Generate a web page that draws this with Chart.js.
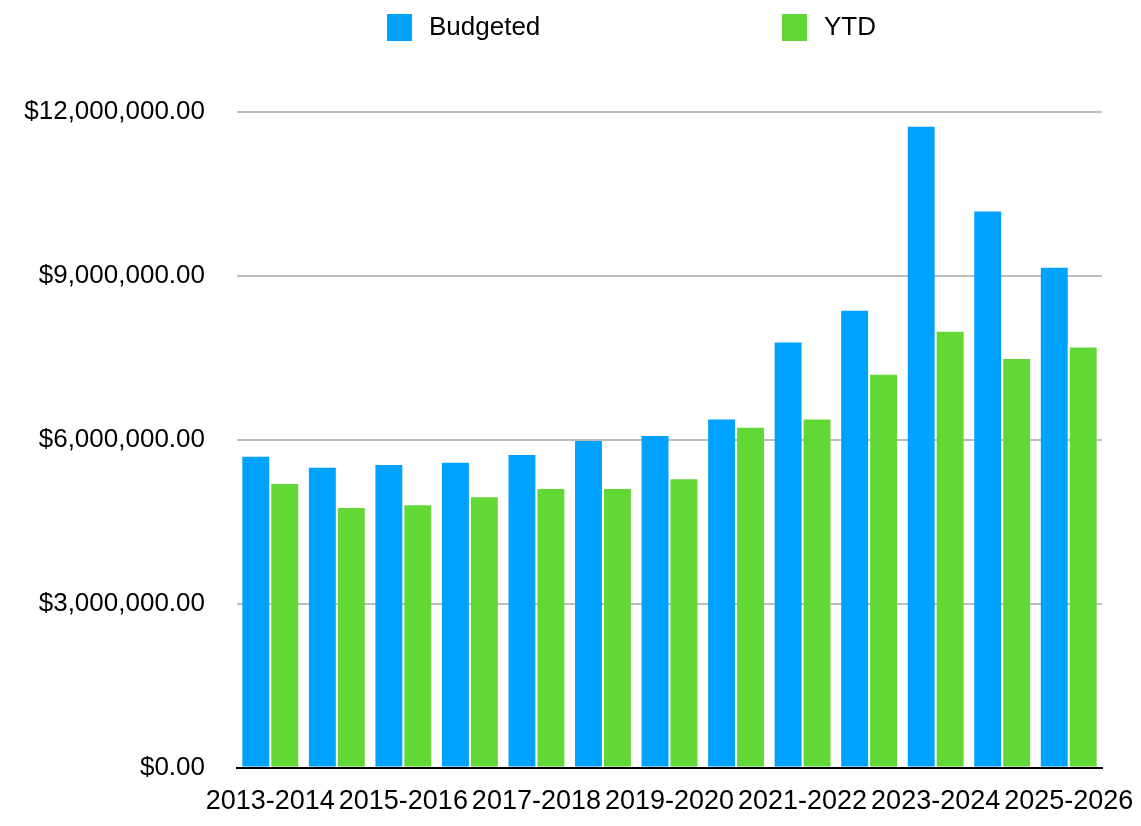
<!DOCTYPE html>
<html>
<head>
<meta charset="utf-8">
<title>Budgeted vs YTD</title>
<script src="https://cdn.jsdelivr.net/npm/chart.js@4/dist/chart.umd.min.js"></script>
<style>
  html, body { margin: 0; padding: 0; background: #fff; }
  #wrap { width: 1141px; height: 826px; }
</style>
</head>
<body>
<div id="wrap"><canvas id="budgetChart"></canvas></div>
<script>
// Data
const years = [
  '2013-2014', '2014-2015', '2015-2016', '2016-2017', '2017-2018', '2018-2019', '2019-2020',
  '2020-2021', '2021-2022', '2022-2023', '2023-2024', '2024-2025', '2025-2026'
];
const budgeted = [
  5690000, 5490000, 5540000, 5580000, 5720000, 5980000, 6070000,
  6370000, 7780000, 8360000, 11730000, 10180000, 9150000
];
const ytd = [
  5190000, 4750000, 4800000, 4950000, 5100000, 5100000, 5280000,
  6220000, 6370000, 7190000, 7980000, 7480000, 7690000
];
const yTicks = [0, 3000000, 6000000, 9000000, 12000000];

const FONT = '"Liberation Sans", Arial, Helvetica, sans-serif';

// Fungsi format dolar: 12000000 -> "$12,000,000.00"
function formatDollar(v) {
  return '$' + Number(v).toLocaleString('en-US', { minimumFractionDigits: 2, maximumFractionDigits: 2 });
}

// Legenda kustom, item diletakkan berjauhan seperti gambar asli
const spreadLegend = {
  id: 'spreadLegend',
  afterDraw(chart) {
    const ctx = chart.ctx;
    const xs = [387, 782];
    ctx.save();
    ctx.font = '26px ' + FONT;
    ctx.textBaseline = 'middle';
    ctx.textAlign = 'left';
    chart.data.datasets.forEach((ds, i) => {
      ctx.fillStyle = ds.backgroundColor;
      ctx.fillRect(xs[i], 14, 25, 27);
      ctx.fillStyle = '#000';
      ctx.fillText(ds.label, xs[i] + 42, 28);
    });
    ctx.restore();
  }
};

const ctx = document.getElementById('budgetChart').getContext('2d');
new Chart(ctx, {
  type: 'bar',
  data: {
    labels: years,
    datasets: [
      { label: 'Budgeted', data: budgeted, backgroundColor: '#00A2FF' },
      { label: 'YTD', data: ytd, backgroundColor: '#61D836' }
    ]
  },
  options: {
    responsive: true,
    maintainAspectRatio: false,
    animation: false,
    categoryPercentage: 0.87,
    barPercentage: 0.93,
    layout: { padding: { top: 112, left: 22, right: 39, bottom: -2 } },
    scales: {
      x: {
        grid: { display: false },
        border: { display: true, color: '#000', width: 2 },
        afterFit: function (axis) {
          // label terakhir boleh melewati area grafik
          axis.paddingLeft = 0;
          axis.paddingRight = 0;
        },
        ticks: {
          autoSkip: false,
          maxRotation: 0,
          minRotation: 0,
          padding: 10,
          color: '#000',
          font: { family: FONT, size: 27 },
          callback: function (value, index) {
            return index % 2 === 0 ? years[index] : '';
          }
        }
      },
      y: {
        min: 0,
        max: 12000000,
        afterBuildTicks: function (axis) {
          axis.ticks = yTicks.map(v => ({ value: v }));
        },
        afterFit: function (axis) {
          axis.width = 215;
        },
        border: { display: false },
        grid: {
          drawTicks: false,
          lineWidth: 2,
          color: c => (c.tick && c.tick.value === 0 ? '#000' : '#bdbdbd')
        },
        ticks: {
          padding: 32,
          color: '#000',
          font: { family: FONT, size: 26 },
          callback: v => formatDollar(v)
        }
      }
    },
    plugins: {
      legend: { display: false },
      tooltip: { enabled: false }
    }
  },
  plugins: [spreadLegend]
});
</script>
</body>
</html>
